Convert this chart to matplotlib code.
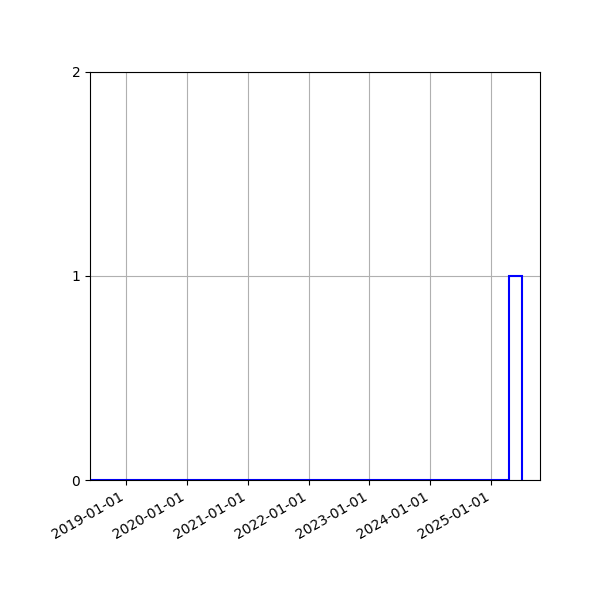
import matplotlib
matplotlib.use("Agg")
import matplotlib.pyplot as plt
import matplotlib.dates as mdates
import numpy as np
import pandas as pd

# data
event_dates = ["2025-05-20"]
bin_first_edge = "2018-04-14"
bin_width_days = 80
n_bins = 33
x_limits = ["2018-05-30", "2025-10-20"]
y_ticks = [0, 1, 2]

dates = mdates.date2num(pd.to_datetime(event_dates))
edges = mdates.date2num(pd.date_range(bin_first_edge, periods=n_bins + 1,
                                      freq=f"{bin_width_days}D"))

fig = plt.figure(figsize=(6, 6), dpi=100)
ax = fig.add_axes([0.15, 0.2, 0.75, 0.68])
ax.hist(dates, bins=edges, histtype="step", color="blue", linewidth=1.5)
ax.xaxis_date()
ax.xaxis.set_major_locator(mdates.YearLocator())
ax.xaxis.set_major_formatter(mdates.DateFormatter("%Y-%m-%d"))
ax.set_xlim(mdates.date2num(pd.to_datetime(x_limits)))
ax.set_ylim(0, 2)
ax.set_yticks(y_ticks)
ax.grid(True)
for lbl in ax.get_xticklabels():
    lbl.set_rotation(30)
    lbl.set_ha("right")
fig.savefig("out.png", dpi=100)
